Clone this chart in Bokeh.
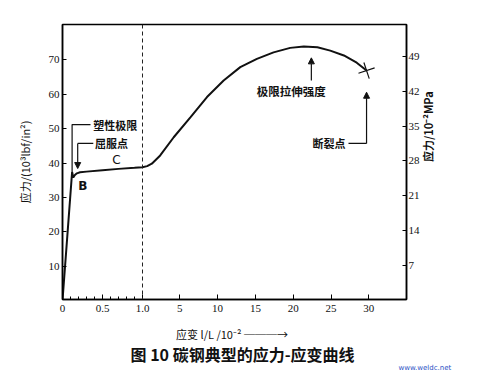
import numpy as np
from bokeh.plotting import figure
from bokeh.models import (Range1d, LinearAxis, FixedTicker, Label, Arrow,
                          NormalHead, Span, Title)
from bokeh.embed import file_html
from bokeh.resources import INLINE

# ---------------- data (strain in 10^-2, stress in 10^3 lbf/in^2) -------------
seg1_strain = [0.0, 0.06, 0.12, 0.135, 0.155, 0.18, 0.22, 0.3, 0.5, 0.7, 0.9, 1.0]
seg1_stress = [0.0, 18.7, 37.4, 35.8, 36.5, 37.0, 37.3, 37.5, 37.9, 38.3, 38.6, 38.8]
seg2_strain = [1.0, 1.5, 2.0, 2.9, 4.35, 6.4, 8.6, 10.8, 13.0, 15.2, 17.4, 19.6,
               21.4, 23.2, 24.9, 26.7, 28.4, 29.7]
seg2_stress = [38.8, 39.1, 39.8, 42.2, 47.5, 53.3, 59.2, 64.0, 67.9, 70.3, 72.2,
               73.5, 73.9, 73.7, 72.7, 71.3, 69.2, 66.9]

x_major = [0, 0.5, 1.0, 5, 10, 15, 20, 25, 30]
x_major_labels = ["0", "0.5", "1.0", "5", "10", "15", "20", "25", "30"]
x_minor = [0.1, 0.2, 0.3, 0.4, 0.6, 0.7, 0.8, 0.9]
y_left_ticks = [10, 20, 30, 40, 50, 60, 70]
y_right_ticks = [7, 14, 21, 28, 35, 42, 49]
KSI_TO_RIGHT = 0.6895

peak_strain, peak_stress = 22.4, 73.9
fracture_strain, fracture_stress = 29.7, 66.9
yield_strain = 0.19
plastic_strain, plastic_stress = 0.12, 37.4

# broken (two-scale) strain axis as drawn in the figure
AX_STRAIN = [0.0, 1.0, 5.0, 30.0]
AX_POS = [0.0, 1.0, 1.466, 3.829]


def xpos(s):
    return np.interp(s, AX_STRAIN, AX_POS)


CJK = "Noto Sans CJK SC"
NUM = "Liberation Sans Narrow"

p = figure(width=483, height=377, output_backend="svg", toolbar_location=None,
           x_range=Range1d(0, 4.3), y_range=Range1d(0.3, 80.3),
           min_border_left=62, min_border_right=77, min_border_top=24,
           min_border_bottom=78, background_fill_color="white",
           border_fill_color="white")
p.grid.visible = False
p.outline_line_color = "black"
p.outline_line_width = 1.5

# curve
xs = list(xpos(seg1_strain)) + list(xpos(seg2_strain[1:]))
ys = seg1_stress + seg2_stress[1:]
p.line(xs, ys, line_color="#111111", line_width=2)

# fracture mark
p.scatter([xpos(fracture_strain)], [fracture_stress], marker="cross", size=17,
          angle=0.32, line_color="#111111", line_width=1.2, fill_color=None)

# dashed divider
p.add_layout(Span(location=xpos(1.0), dimension="height", line_color="#222222",
                  line_width=1, line_dash="4 3"))

# x axis
xa = p.xaxis[0]
major_pos = [round(float(v), 4) for v in xpos(x_major)]
xa.ticker = FixedTicker(ticks=major_pos,
                        minor_ticks=[round(float(v), 4) for v in xpos(x_minor)])
xa.major_label_overrides = {mp: lab for mp, lab in zip(major_pos, x_major_labels)}
xa.major_tick_in = 5
xa.major_tick_out = 0
xa.minor_tick_in = 3
xa.minor_tick_out = 0
xa.major_label_standoff = 5
xa.major_label_text_font = NUM
xa.major_label_text_font_size = "11px"
xa.major_label_text_color = "#111111"
xa.axis_line_width = 1.5
xa.axis_label = "应变 l/L /10⁻²   ───→"
xa.axis_label_text_font = CJK
xa.axis_label_text_font_size = "11px"
xa.axis_label_text_font_style = "normal"
xa.axis_label_text_color = "#111111"
xa.axis_label_standoff = 11

# left y axis
ya = p.yaxis[0]
ya.ticker = FixedTicker(ticks=y_left_ticks)
ya.major_tick_in = 4
ya.major_tick_out = 0
ya.minor_tick_in = 0
ya.minor_tick_out = 0
ya.major_label_standoff = 3
ya.major_label_text_font = NUM
ya.major_label_text_font_size = "11px"
ya.major_label_text_color = "#111111"
ya.axis_line_width = 1.5
ya.axis_label = "应力/(10³lbf/in²)"
ya.axis_label_text_font = CJK
ya.axis_label_text_font_size = "11px"
ya.axis_label_text_font_style = "normal"
ya.axis_label_text_color = "#111111"
ya.axis_label_standoff = 13

# right y axis
p.extra_y_ranges = {"mpa": Range1d(0.3 * KSI_TO_RIGHT, 80.3 * KSI_TO_RIGHT)}
ra = LinearAxis(y_range_name="mpa", ticker=FixedTicker(ticks=y_right_ticks))
ra.major_tick_in = 4
ra.major_tick_out = 0
ra.minor_tick_in = 0
ra.minor_tick_out = 0
ra.major_label_standoff = 2
ra.major_label_text_font = NUM
ra.major_label_text_font_size = "11px"
ra.major_label_text_color = "#111111"
ra.axis_line_width = 1.5
ra.axis_label = "应力/10⁻²MPa"
ra.axis_label_text_font = CJK
ra.axis_label_text_font_size = "11px"
ra.axis_label_text_font_style = "bold"
ra.axis_label_text_color = "#111111"
ra.axis_label_standoff = 5
if hasattr(ra, "axis_label_orientation"):
    ra.axis_label_orientation = float(np.pi / 2)
p.add_layout(ra, "right")

# caption and watermark below the axis
p.add_layout(Title(text="图 10  碳钢典型的应力-应变曲线", align="left", offset=68,
                   text_font=CJK, text_font_size="16px", text_font_style="bold",
                   text_color="#111111", standoff=-9), "below")
p.add_layout(Title(text="www.weldc.net", align="left", offset=336,
                   text_font="DejaVu Sans", text_font_size="7px",
                   text_font_style="normal", text_color="#2a4fc4",
                   standoff=0), "below")


def txt(x, y, t, size="11px", font=CJK, align="left", style="normal",
        color="#111111", baseline="middle"):
    p.add_layout(Label(x=x, y=y, text=t, text_font=font, text_font_size=size,
                       text_align=align, text_baseline=baseline,
                       text_font_style=style, text_color=color))


def head():
    return NormalHead(size=6, fill_color="#111111", line_color="#111111",
                      line_width=1)


# 塑性极限 leader
px = float(xpos(plastic_strain))
p.line([0.35, px, px], [51.2, 51.2, plastic_stress], line_color="#111111",
       line_width=1.2)
txt(0.385, 51.2, "塑性极限", style="bold")

# 屈服点 leader
yx = float(xpos(yield_strain))
p.line([0.385, yx], [45.7, 45.7], line_color="#111111", line_width=1.2)
p.add_layout(Arrow(end=head(), x_start=yx, y_start=45.7, x_end=yx, y_end=38.4,
                   line_color="#111111", line_width=1.2))
txt(0.405, 45.7, "屈服点", style="bold")

txt(0.675, 40.8, "C", size="12px", font="DejaVu Sans", align="center")
txt(0.254, 33.3, "B", size="12px", font="DejaVu Sans", align="center",
    style="bold")

# 极限拉伸强度
kx = float(xpos(peak_strain))
p.add_layout(Arrow(end=head(), x_start=kx, y_start=64.0, x_end=kx, y_end=70.6,
                   line_color="#111111", line_width=1.2))
txt(2.86, 61.0, "极限拉伸强度", size="11.5px", align="center", style="bold")

# 断裂点
fx = float(xpos(fracture_strain))
p.line([3.575, fx], [45.7, 45.7], line_color="#111111", line_width=1.2)
p.add_layout(Arrow(end=head(), x_start=fx, y_start=45.7, x_end=fx, y_end=60.6,
                   line_color="#111111", line_width=1.2))
txt(3.33, 45.7, "断裂点", align="center", style="bold")

open("out.html", "w").write(file_html(p, INLINE))
